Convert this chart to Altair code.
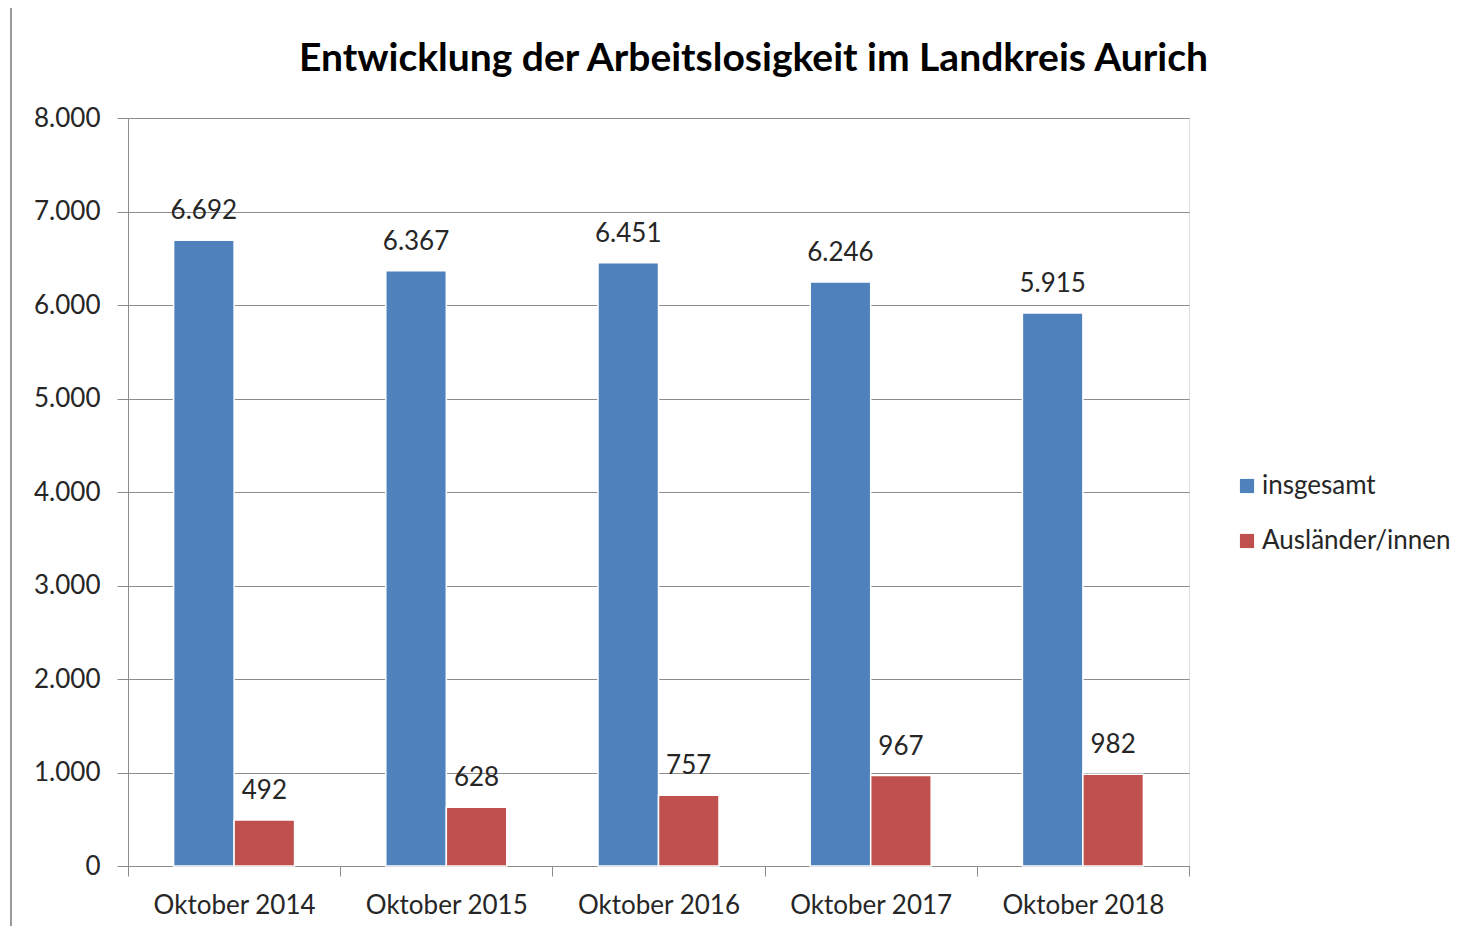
import altair as alt
import pandas as pd

categories = ["Oktober 2014", "Oktober 2015", "Oktober 2016", "Oktober 2017", "Oktober 2018"]
series_names = ["insgesamt", "Ausländer/innen"]
insgesamt = [6692, 6367, 6451, 6246, 5915]
auslaender = [492, 628, 757, 967, 982]
colors = ["#4F81BD", "#C0504D"]

rows = []
for c, a, b in zip(categories, insgesamt, auslaender):
    rows.append({"Monat": c, "Gruppe": series_names[0], "Wert": a})
    rows.append({"Monat": c, "Gruppe": series_names[1], "Wert": b})
df = pd.DataFrame(rows)

FONT = "Lato"
TXT = "#262626"
GRID = "#8c8c8c"

x = alt.X("Monat:N", sort=categories, title=None,
          scale=alt.Scale(paddingInner=0, paddingOuter=0),
          axis=alt.Axis(labelAngle=0, tickBand="extent", tickSize=10, labelPadding=16,
                        labelFontSize=26, labelFont=FONT, labelColor=TXT,
                        domainColor=GRID, tickColor=GRID, grid=False))
xo = alt.XOffset("Gruppe:N", sort=series_names,
                 scale=alt.Scale(paddingInner=0, paddingOuter=0.754))
color = alt.Color("Gruppe:N", sort=series_names,
                  scale=alt.Scale(domain=series_names, range=colors),
                  legend=alt.Legend(title=None, orient="none", legendX=1106, legendY=355,
                                    symbolType="square", symbolSize=200, symbolStrokeWidth=0,
                                    labelFont=FONT, labelFontSize=26, labelColor=TXT,
                                    labelLimit=400, labelOffset=2, rowPadding=29))
y = alt.Y("Wert:Q", title=None,
          scale=alt.Scale(domain=[0, 8000]),
          axis=alt.Axis(values=list(range(0, 8001, 1000)), tickSize=11, labelPadding=17,
                        labelFontSize=26, labelFont=FONT, labelColor=TXT,
                        labelExpr="replace(format(datum.value, ','), ',', '.')",
                        domainColor=GRID, tickColor=GRID, gridColor=GRID, gridWidth=1.2))

base = alt.Chart(df)
bars = base.mark_bar(stroke="white", strokeWidth=1.5).encode(x=x, xOffset=xo, y=y, color=color)
labels = base.transform_calculate(
    label="replace(format(datum.Wert, ','), ',', '.')"
).mark_text(font=FONT, fontSize=26, color=TXT, baseline="alphabetic", dy=-21).encode(
    x=alt.X("Monat:N", sort=categories), xOffset=alt.XOffset("Gruppe:N", sort=series_names),
    y="Wert:Q", text="label:N")

frame = alt.Chart(pd.DataFrame({"a": [0]})).mark_rule(color="#999999", strokeWidth=2).encode(
    x=alt.value(-117), y=alt.value(-110), y2=alt.value(808))

chart = alt.layer(frame, bars, labels).properties(
    width=1061, height=748,
    title=alt.Title("Entwicklung der Arbeitslosigkeit im Landkreis Aurich",
                    font=FONT, fontSize=39, fontWeight="bold", color="#000000",
                    anchor="middle", dx=95, offset=-72),
    autosize=alt.AutoSizeParams(type="none"),
    padding={"left": 120, "top": 110, "right": 287, "bottom": 60},
).configure_view(stroke="transparent", strokeWidth=0).configure(background="white")

chart.save("out.html", embed_options={"renderer": "svg", "actions": False})
